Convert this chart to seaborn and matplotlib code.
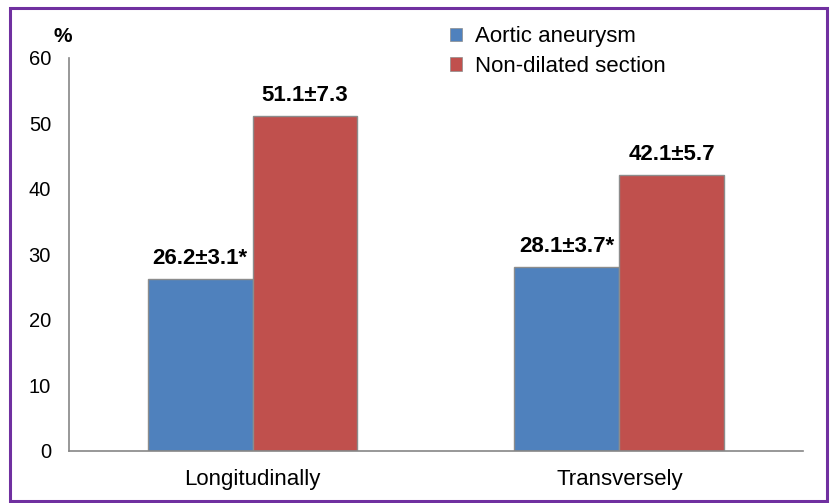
import pandas as pd
import matplotlib.pyplot as plt
import seaborn as sns
from matplotlib.patches import Rectangle

# data
categories = ["Longitudinally", "Transversely"]
groups = ["Aortic aneurysm", "Non-dilated section"]
aneurysm = [26.2, 28.1]
non_dilated = [51.1, 42.1]
labels_aneurysm = ["26.2±3.1*", "28.1±3.7*"]
labels_non_dilated = ["51.1±7.3", "42.1±5.7"]

df = pd.DataFrame({
    "Section": categories * 2,
    "Group": [groups[0]] * 2 + [groups[1]] * 2,
    "Value": aneurysm + non_dilated,
})

sns.set_style("white")
plt.rcParams["font.family"] = ["Liberation Sans", "DejaVu Sans"]
plt.rcParams.update({"text.color": "black", "xtick.labelcolor": "black",
                     "ytick.labelcolor": "black"})

fig = plt.figure(figsize=(8.32, 5.03), dpi=100)
ax = fig.add_axes([0.083, 0.1034, 0.882, 0.7813])

palette = {groups[0]: "#4F81BD", groups[1]: "#C0504D"}
sns.barplot(data=df, x="Section", y="Value", hue="Group", order=categories,
            hue_order=groups, palette=palette, width=0.572, saturation=1,
            edgecolor="#8C8C8C", linewidth=1, ax=ax, legend=False)

ax.set_xlim(-0.5, 1.5)
ax.set_ylim(0, 60)
ax.set_yticks(range(0, 61, 10))
ax.set_xlabel("")
ax.set_ylabel("")
ax.set_xticks([-0.5, 0.5, 1.5], minor=False)
ax.set_xticklabels([])
ax.set_xticks([0, 1], minor=True)
ax.set_xticklabels(categories, minor=True, fontsize=16)
ax.tick_params(axis="x", which="minor", length=0, pad=13)
ax.tick_params(axis="x", which="major", length=6, color="#868686", direction="out")
ax.tick_params(axis="y", length=5, color="#868686", direction="out", labelsize=14.5, pad=8)
for s in ["top", "right"]:
    ax.spines[s].set_visible(False)
for s in ["left", "bottom"]:
    ax.spines[s].set_color("#868686")
    ax.spines[s].set_linewidth(1.2)

# value labels over the bars
for cont, labs in zip(ax.containers, [labels_aneurysm, labels_non_dilated]):
    ax.bar_label(cont, labels=labs, padding=7.5, fontsize=16, fontweight="bold",
                 color="black")

ax.text(-0.008, 1.03, "%", transform=ax.transAxes, fontsize=15,
        fontweight="bold", ha="center", va="bottom")

handles = [Rectangle((0, 0), 1, 1, facecolor=palette[g], edgecolor="#8C8C8C", lw=0.5)
           for g in groups]
fig.legend(handles, groups, loc="upper left", bbox_to_anchor=(0.541, 0.948),
           frameon=False, fontsize=16, handlelength=0.55, handleheight=0.55,
           handletextpad=0.55, labelspacing=0.4, borderpad=0, borderaxespad=0)

# purple frame around the chart
fig.patches.append(Rectangle((10 / 832, 2 / 503), 817 / 832, 493 / 503,
                             transform=fig.transFigure, fill=False,
                             edgecolor="#7030A0", linewidth=2.2))

fig.savefig("out.png", dpi=100)
